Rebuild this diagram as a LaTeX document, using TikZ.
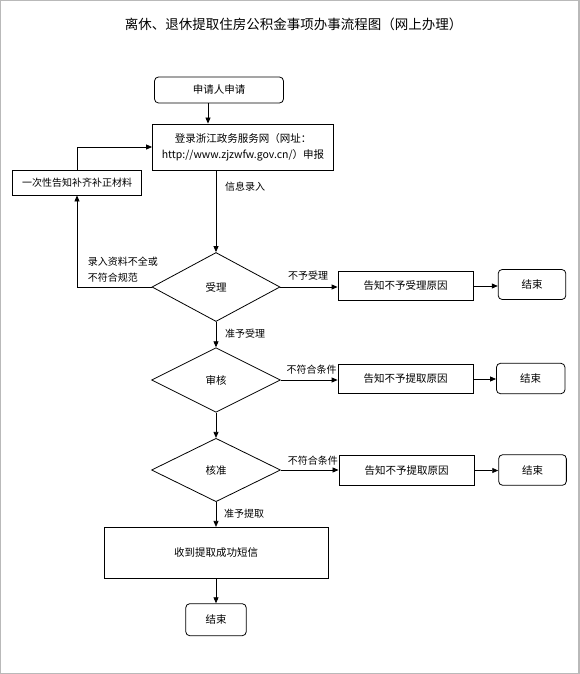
\documentclass[tikz,border=0pt]{standalone}
\usepackage{fontspec}
\setmainfont{Noto Sans CJK SC}
\usetikzlibrary{shapes.geometric, arrows.meta, positioning, calc}

\begin{document}
\begin{tikzpicture}[
        x=1pt, y=-1pt,
        box/.style={draw, rectangle, line width=0.8pt, align=center, inner sep=2pt, font=\fontsize{10.5}{16}\selectfont},
        endbox/.style={box, rounded corners=4pt},
        decision/.style={draw, diamond, line width=0.8pt, inner sep=0pt, font=\fontsize{10.5}{13}\selectfont},
        lbl/.style={anchor=west, inner sep=0pt, align=left, font=\fontsize{10}{16}\selectfont},
        arrow/.style={-{Triangle[length=6pt, width=5pt]}, line width=0.8pt}
    ]
        \useasboundingbox (0,0) rectangle (579,674);
        \draw[gray!55, line width=2pt] (0,0) rectangle (579,674);

        % Title
        \node[font=\fontsize{13.5}{16}\selectfont] (title) at (293.5, 24) {离休、退休提取住房公积金事项办事流程图（网上办理）};

        % Application
        \node[endbox, minimum width=129pt, minimum height=26pt] (apply) at (219, 90) {申请人申请};
        \node[box, minimum width=181pt, minimum height=46pt] (login) at (243, 147) {登录浙江政务服务网（网址：\\http://www.zjzwfw.gov.cn/）申报};
        \node[box, minimum width=128.6pt, minimum height=25pt, font=\fontsize{10}{12}\selectfont] (supply) at (77, 182.5) {一次性告知补齐补正材料};

        \draw[arrow] ([xshift=-11pt]apply.south) -- ([xshift=-11pt]apply.south |- login.north);
        \draw[arrow] (supply.north) |- (login.west);

        % Acceptance
        \node[decision, minimum width=128pt, minimum height=69pt] (accept) at (216, 287) {受理};
        \node[box, minimum width=135pt, minimum height=29pt] (noaccept) at (405.5, 286) {告知不予受理原因};
        \node[endbox, minimum width=67.6pt, minimum height=30pt] (end1) at (532, 284.5) {结束};

        \draw[arrow] (accept.north |- login.south) -- (accept.north);
        \draw[arrow] (accept.west) -| (supply.south);
        \draw[arrow] (accept.east) -- (accept.east -| noaccept.west);
        \draw[arrow] (noaccept.east) -- (noaccept.east -| end1.west);

        \node[lbl] (infolbl) at (225, 187) {信息录入};
        \node[lbl] (faillbl) at (87.6, 270) {录入资料不全或\\不符合规范};
        \node[lbl] (refuselbl) at (288, 276) {不予受理};

        % Review
        \node[decision, minimum width=129pt, minimum height=64.6pt] (review) at (216, 380) {审核};
        \node[box, minimum width=135pt, minimum height=29pt] (noreview) at (405.5, 379) {告知不予提取原因};
        \node[endbox, minimum width=68.5pt, minimum height=30.4pt] (end2) at (530.7, 378.5) {结束};

        \draw[arrow] (accept.south) -- (review.north);
        \draw[arrow] (review.east) -- (review.east -| noreview.west);
        \draw[arrow] (noreview.east) -- (noreview.east -| end2.west);

        \node[lbl] (acceptlbl) at (225, 334) {准予受理};
        \node[lbl] (cond1lbl) at (286.5, 369.3) {不符合条件};

        % Approval
        \node[decision, minimum width=129pt, minimum height=63.4pt] (approve) at (216, 470) {核准};
        \node[box, minimum width=135.3pt, minimum height=29.6pt] (noapprove) at (406.6, 470.5) {告知不予提取原因};
        \node[endbox, minimum width=67.7pt, minimum height=30.6pt] (end3) at (532.5, 470) {结束};

        \draw[arrow] (review.south) -- (approve.north);
        \draw[arrow] (approve.east) -- (approve.east -| noapprove.west);
        \draw[arrow] (noapprove.east) -- (noapprove.east -| end3.west);

        \node[lbl] (cond2lbl) at (287.6, 460.7) {不符合条件};

        % Withdrawal
        \node[box, minimum width=224pt, minimum height=51pt] (sms) at (216, 552.8) {收到提取成功短信};
        \node[endbox, minimum width=60.5pt, minimum height=32pt] (end4) at (216, 619.7) {结束};

        \draw[arrow] (approve.south) -- (sms.north);
        \draw[arrow] (sms.south) -- (end4.north);

        \node[lbl] (withdrawlbl) at (224, 513.3) {准予提取};
    \end{tikzpicture}
\end{document}
